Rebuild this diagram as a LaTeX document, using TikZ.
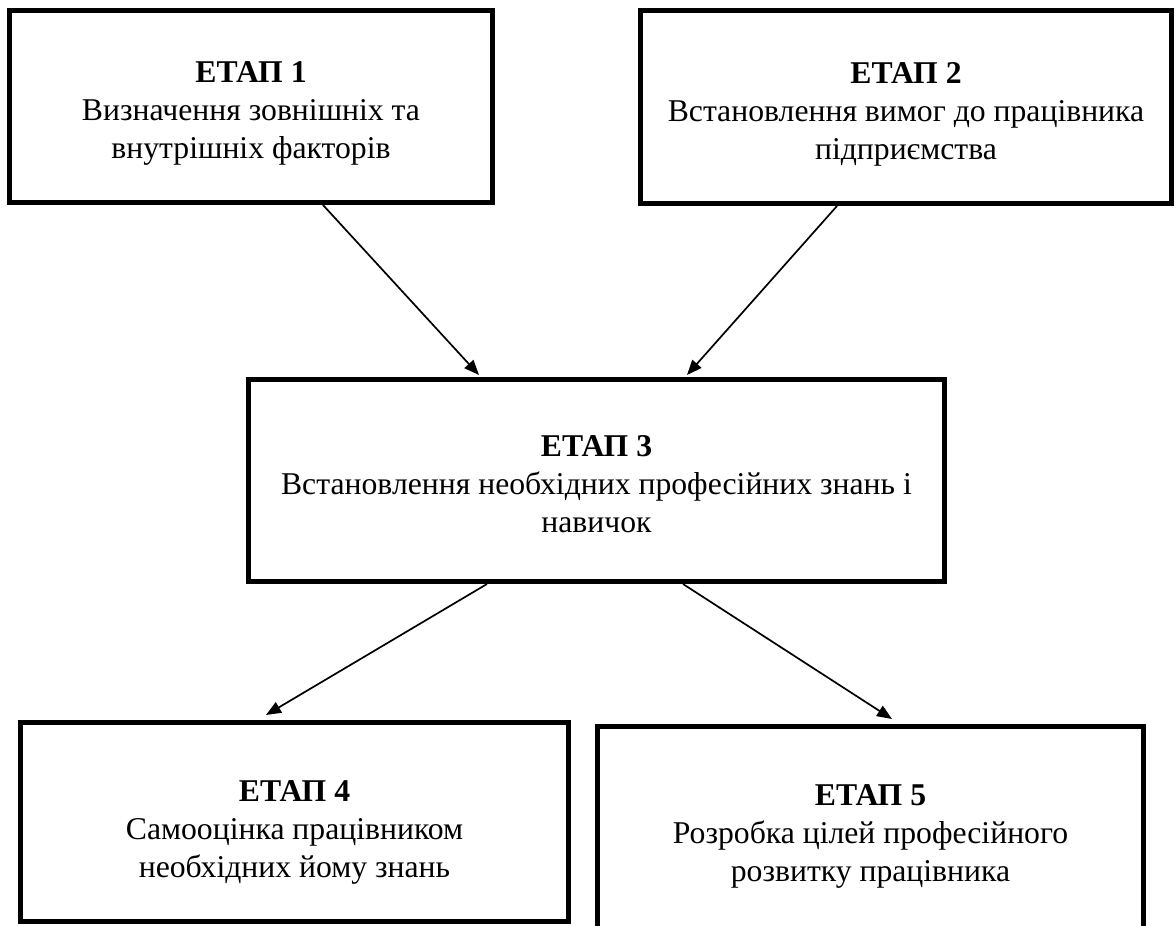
\documentclass[tikz,border=0pt]{standalone}
\usepackage{fontspec}
\setmainfont{Liberation Serif}
\usetikzlibrary{arrows.meta}
\newcommand{\firstrow}[1]{\rule{0pt}{#1}}
\newcommand{\lastrow}{\rule[-8pt]{0pt}{8pt}}
\begin{document}
\begin{tikzpicture}[x=1pt,y=-1pt,
  stage/.style={draw, line width=5pt, align=center, inner sep=0pt,
    font=\fontsize{31.7}{38}\selectfont},
  conn/.style={line width=1.7pt, -{Triangle[length=15pt,width=12pt]}}]
\path[use as bounding box, fill=white] (0,0) rectangle (1176,926);
\node[stage, minimum width=483pt, minimum height=192pt] (b1) at (251,106.5)
  {\firstrow{36pt}\textbf{ЕТАП 1}\\Визначення зовнішніх та\\внутрішніх факторів\lastrow};
\node[stage, minimum width=531pt, minimum height=193pt] (b2) at (906,107)
  {\firstrow{36pt}\textbf{ЕТАП 2}\\Встановлення вимог до працівника\\підприємства\lastrow};
\node[stage, minimum width=696pt, minimum height=202pt] (b3) at (596.5,480.5)
  {\firstrow{36pt}\textbf{ЕТАП 3}\\Встановлення необхідних професійних знань і\\навичок\lastrow};
\node[stage, minimum width=548pt, minimum height=199pt] (b4) at (294.5,822)
  {\firstrow{42pt}\textbf{ЕТАП 4}\\Самооцінка працівником\\необхідних йому знань\lastrow};
\node[stage, minimum width=546pt, minimum height=215pt] (b5) at (870.5,834)
  {\firstrow{27pt}\textbf{ЕТАП 5}\\Розробка цілей професійного\\розвитку працівника\lastrow};
\draw[conn] ([xshift=72pt]b1.south) -- ([xshift=-117.5pt,yshift=2pt]b3.north);
\draw[conn] ([xshift=-69pt]b2.south) -- ([xshift=90.5pt,yshift=2pt]b3.north);
\draw[conn] ([xshift=-109.5pt]b3.south) -- ([xshift=-28.5pt,yshift=5pt]b4.north);
\draw[conn] ([xshift=86.5pt]b3.south) -- ([xshift=21.5pt,yshift=5pt]b5.north);
\end{tikzpicture}
\end{document}
